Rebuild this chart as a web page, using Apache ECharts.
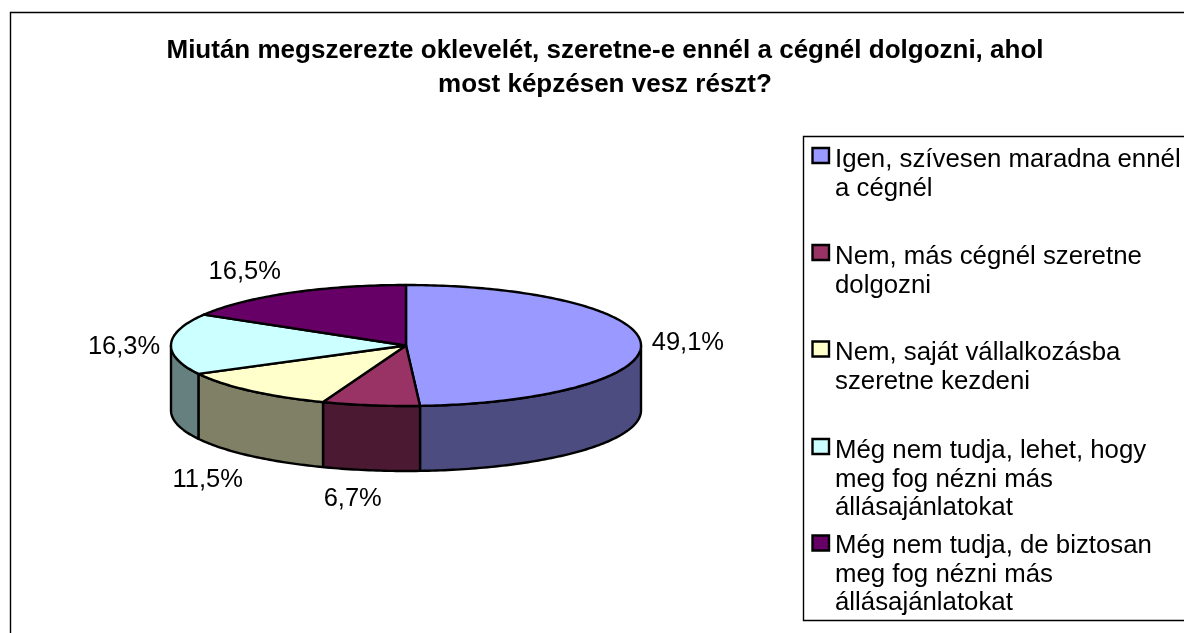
<!DOCTYPE html>
<html><head><meta charset="utf-8">
<style>html,body{margin:0;padding:0;background:#fff}#c{width:1184px;height:633px}</style>
<script src="https://cdn.jsdelivr.net/npm/echarts@6/dist/echarts.min.js"></script>
</head><body><div id="c"></div>
<script>
const titleText = 'Miután megszerezte oklevelét, szeretne-e ennél a cégnél dolgozni, ahol\nmost képzésen vesz részt?';
const categories = [
  'Igen, szívesen maradna ennél\na cégnél',
  'Nem, más cégnél szeretne\ndolgozni',
  'Nem, saját vállalkozásba\nszeretne kezdeni',
  'Még nem tudja, lehet, hogy\nmeg fog nézni más\nállásajánlatokat',
  'Még nem tudja, de biztosan\nmeg fog nézni más\nállásajánlatokat'
];
const values = [49.1, 6.7, 11.5, 16.3, 16.5];
const valueLabels = ['49,1%', '6,7%', '11,5%', '16,3%', '16,5%'];
const topColors = ['#9999FF', '#993366', '#FFFFCC', '#CCFFFF', '#660066'];
const sideColors = ['#4C4C80', '#4C1933', '#808066', '#668080', '#330033'];
const labelNudgeX = [47, -18, -43, -47, -45];
const labelNudgeY = [-1, 29, 24, 3, -21];
const legendTextTop = [146, 243, 339, 437, 532];
const legendSwatchY = [155.5, 252.5, 349, 446.5, 543];

const CX = 406, CY = 345.5, RX = 235, RY = 60.5, DEPTH = 65;
const FONT = '"Liberation Sans", Arial, sans-serif';
const total = values.reduce((a, b) => a + b, 0);
const rim = (deg, drop) => {
  const t = deg * Math.PI / 180;
  return [CX + RX * Math.sin(t), CY - RY * Math.cos(t) + (drop || 0)];
};
const arc = (a, b, drop) => {
  const pts = [], n = Math.max(2, Math.ceil(Math.abs(b - a)));
  for (let i = 0; i <= n; i++) pts.push(rim(a + (b - a) * i / n, drop));
  return pts;
};
const starts = values.map((_, i) => values.slice(0, i).reduce((a, b) => a + b, 0) / total * 360);
const stroke = { stroke: '#000', lineWidth: 2.4, lineJoin: 'round' };

function renderSlice(params, api) {
  const i = params.dataIndex;
  const a = starts[i], b = a + api.value(0) / total * 360;
  const children = [];
  const fa = Math.max(a, 90), fb = Math.min(b, 270);
  if (fb > fa) {
    children.push({ type: 'polygon', z2: 1,
      shape: { points: arc(fa, fb, 0).concat(arc(fb, fa, DEPTH)) },
      style: Object.assign({ fill: sideColors[i] }, stroke) });
  }
  children.push({ type: 'polygon', z2: 2,
    shape: { points: [[CX, CY]].concat(arc(a, b, 0)) },
    style: Object.assign({ fill: topColors[i] }, stroke) });
  const mid = (a + b) / 2;
  const edge = rim(mid, Math.cos(mid * Math.PI / 180) < 0 ? DEPTH : 0);
  children.push({ type: 'text', z2: 3,
    x: edge[0] + labelNudgeX[i], y: edge[1] + labelNudgeY[i],
    style: { text: valueLabels[i], fill: '#000', font: '25.5px ' + FONT, textAlign: 'center', textVerticalAlign: 'middle' } });
  return { type: 'group', children };
}

const legendGraphics = [
  { type: 'rect', z: 0, shape: { x: 10.5, y: 12.5, width: 1400, height: 900 }, style: { fill: '#fff', stroke: '#000', lineWidth: 1.4 } },
  { type: 'rect', z: 1, shape: { x: 803.5, y: 136.5, width: 600, height: 484 }, style: { fill: '#fff', stroke: '#000', lineWidth: 1.4 } }
];
categories.forEach((name, i) => {
  legendGraphics.push({ type: 'rect', z: 2, shape: { x: 812.5, y: legendSwatchY[i] - 7.5, width: 16.5, height: 15 },
    style: { fill: topColors[i], stroke: '#000', lineWidth: 2.4 } });
  legendGraphics.push({ type: 'text', z: 2, x: 835, y: legendTextTop[i],
    style: { text: name, fill: '#000', font: '25.8px ' + FONT, lineHeight: 28.3, textAlign: 'left', textVerticalAlign: 'top' } });
});

const chart = echarts.init(document.getElementById('c'), null, { renderer: 'canvas' });
chart.setOption({
  animation: false,
  backgroundColor: '#fff',
  title: { text: titleText, left: 600, top: 29, textAlign: 'center', z: 5,
    textStyle: { fontFamily: FONT, fontSize: 26, fontWeight: 'bold', color: '#000', lineHeight: 34 } },
  graphic: legendGraphics,
  series: [{ type: 'custom', coordinateSystem: 'none', z: 3, data: values.map(v => [v]), renderItem: renderSlice, silent: true }]
});
</script></body></html>
